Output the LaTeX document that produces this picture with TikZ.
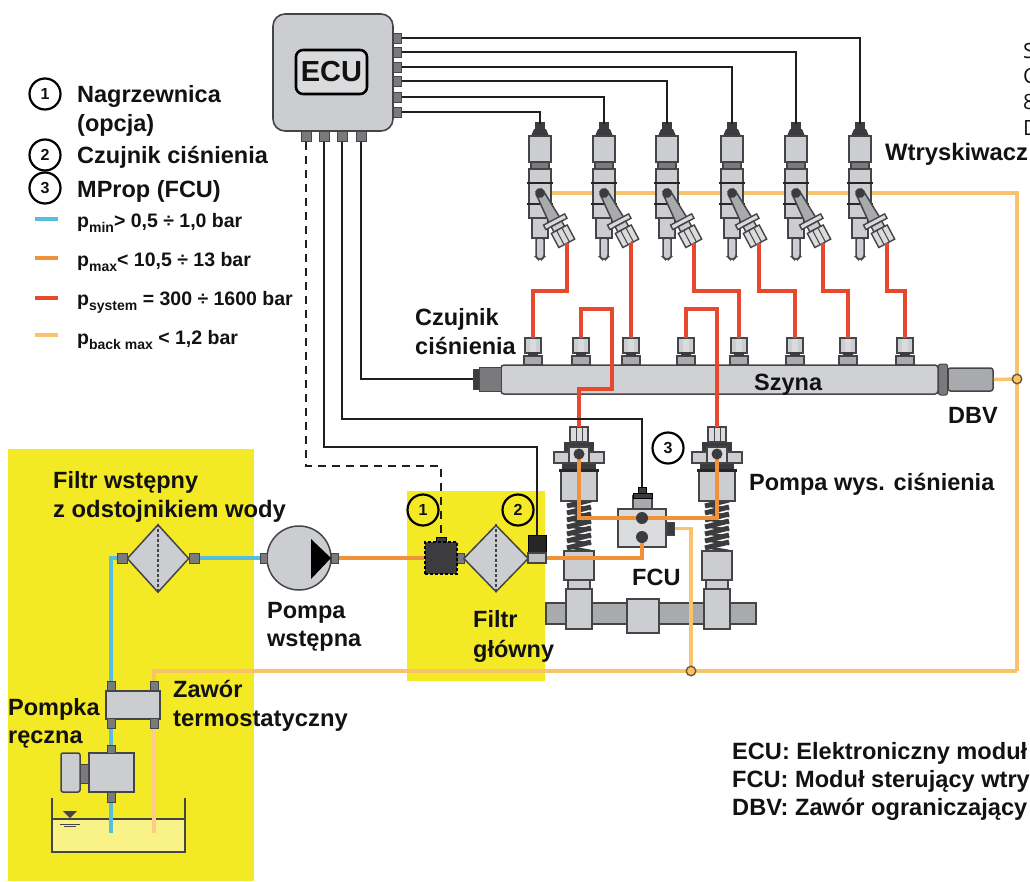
\documentclass[tikz,border=0pt]{standalone}
\usepackage{fontspec}
\setmainfont{Liberation Sans}
\newfontfamily\sidefont{Open Sans}
\usetikzlibrary{shapes.geometric}
\definecolor{bodyc}{HTML}{CBCDD0}
\definecolor{lightc}{HTML}{DADBDD}
\definecolor{midc}{HTML}{A9AAAD}
\definecolor{portc}{HTML}{7A7A7C}
\definecolor{edgec}{HTML}{454547}
\definecolor{darkc}{HTML}{3C3C3E}
\definecolor{hiyellow}{HTML}{F4E925}
\definecolor{bluep}{HTML}{58BEDF}
\definecolor{orangep}{HTML}{F0923A}
\definecolor{redp}{HTML}{E8482E}
\definecolor{backp}{HTML}{F8C36A}
\definecolor{backpale}{HTML}{FFCB8C}
\definecolor{txtc}{HTML}{121212}
\tikzset{
  part/.style={draw=edgec,line width=1.5pt,fill=bodyc},
  lightpart/.style={draw=edgec,line width=1.4pt,fill=lightc},
  portpart/.style={draw=edgec,line width=1pt,fill=portc},
  darkpart/.style={draw=black,line width=1pt,fill=darkc},
  wire/.style={draw=black!88,line width=2pt},
  dashwire/.style={wire,dash pattern=on 8pt off 6pt},
  pipeblue/.style={draw=bluep,line width=4pt},
  pipeorange/.style={draw=orangep,line width=4pt},
  pipered/.style={draw=redp,line width=4.5pt},
  pipeback/.style={draw=backp,line width=3.5pt},
  pipepale/.style={draw=backpale,line width=3.5pt},
  label/.style={anchor=base west,inner sep=0pt,text=txtc,font=\fontsize{23.5}{27}\selectfont\bfseries},
  widelabel/.style={anchor=base west,inner sep=0pt,text=txtc,font=\fontsize{23.8}{27}\selectfont\bfseries},
  notelabel/.style={anchor=base west,inner sep=0pt,text=txtc,font=\fontsize{23.6}{27}\selectfont\bfseries},
  legendtxt/.style={anchor=base west,inner sep=0pt,text=txtc,font=\fontsize{19.5}{22}\selectfont\bfseries},
  sidetxt/.style={anchor=base west,inner sep=0pt,text=txtc,font=\fontsize{21}{24}\selectfont\sidefont},
  numcirc/.style={circle,draw=black,line width=2.2pt,fill=white,minimum size=31pt,inner sep=0pt,font=\fontsize{16}{16}\selectfont\bfseries,text=txtc},
  tick/.style={line width=4pt},
  junction/.style={circle,draw=black!55!backp,line width=1.4pt,fill=backp,minimum size=9.5pt,inner sep=0pt},
}
\newcommand{\lowsub}[1]{\raisebox{-5pt}{\fontsize{14}{14}\selectfont #1}}
% injector: #1 index, #2 axis x
\newcommand{\injector}[2]{%
\begin{scope}[shift={(#2,0)}]
  \fill[darkc] (-5,122) rectangle (5,131);
  \fill[darkc] (-6,136) -- (-9,136) -- (-6,129) -- (6,129) -- (9,136) -- cycle;
  \path[part] (-8,218) -- (8,218) -- (8,238) -- (-8,238) -- cycle;
  \path[part,rounded corners=1.5pt] (-4,238) -- (4,238) -- (4,257) -- (2,259) -- (-2,259) -- (-4,257) -- cycle;
  \path[part] (-11,136) rectangle (11,162);
  \path[part,fill=portc] (-9,162) rectangle (9,169);
  \path[part] (-11,169) rectangle (11,218);
  \draw[black!85,line width=2.8pt] (-13,183) -- (13,183);
  \draw[black!85,line width=2.8pt] (-13,204) -- (13,204);
  \begin{scope}[shift={(0,193)},rotate=28]
    \path[part,fill=midc] (-4,0) -- (4,0) -- (6,31) -- (-6,31) -- cycle;
    \fill[darkc] (0,0) circle (5);
    \path[lightpart] (-12,30) rectangle (12,35);
    \path[part] (-6,35) rectangle (6,41);
    \path[lightpart] (-9,41) rectangle (9,57);
    \draw[edgec,line width=1pt] (-3,41) -- (-3,57) (3,41) -- (3,57);
    \coordinate (injend#1) at (0,57);
  \end{scope}
  \coordinate (injtop#1) at (0,124);
\end{scope}}
% rail port: #1 index, #2 axis x
\newcommand{\railport}[2]{%
\begin{scope}[shift={(#2,0)}]
  \path[part,fill=midc] (-9,356) rectangle (9,365);
  \path[part] (-8,338) rectangle (8,353);
  \fill[lightc] (-3,338.6) rectangle (3,352.4);
  \fill[darkc] (-5,352) rectangle (5,356);
  \coordinate (rail#1) at (0,338);
\end{scope}}
% high pressure pump: #1 name, #2 axis x
\newcommand{\hppump}[2]{%
\begin{scope}[shift={(#2,0)}]
  \path[part] (-13,589) rectangle (13,629);
  \path[part] (-11,580) rectangle (11,589);
  \foreach \yy in {503,510,...,549} {
    \draw[darkc,line width=5pt] (-12,\yy+3) -- (12,\yy-3);
    \draw[darkc,line width=2.6pt] (-12,\yy+2) -- (12,\yy+6);
  }
  \path[part] (-15,551) rectangle (15,580);
  \path[part] (-18,470) rectangle (18,501);
  \fill[darkc] (-17,462) rectangle (17,470);
  \draw[black!85,line width=3pt] (-20,470) -- (20,470);
  \fill[darkc] (-15,442) rectangle (15,455);
  \path[part] (-25,452) rectangle (25,463);
  \path[lightpart] (-10,447) rectangle (10,463);
  \path[lightpart] (-9,427) rectangle (9,442);
  \draw[edgec,line width=1pt] (-3,427) -- (-3,442) (3,427) -- (3,442);
  \coordinate (#1top) at (0,427);
  \coordinate (#1in) at (0,454);
\end{scope}}
\begin{document}
\begin{tikzpicture}[x=1pt,y=-1pt]
\useasboundingbox (0,0) rectangle (1030,881);
\clip (0,0) rectangle (1030,881);
% yellow zones
\fill[hiyellow] (8,449) rectangle (254,881);
\fill[hiyellow] (407,491) rectangle (545,681);
% tank water
\fill[hiyellow!55!white] (52,819) rectangle (185,852);
\draw[edgec,line width=1.2pt] (52,819) -- (185,819);
% ECU
\node[draw=edgec,line width=1.6pt,fill=bodyc,rounded corners=12pt,minimum width=120pt,minimum height=117pt,inner sep=0pt] (ecubox) at (333,72.5) {};
\node[draw=black,line width=2.6pt,fill=lightc,rounded corners=7pt,minimum width=71pt,minimum height=44pt,inner sep=0pt,font=\fontsize{29}{30}\selectfont\bfseries,text=txtc] (ecutag) at (331.5,72) {ECU};
\foreach \n/\yy in {a/38,b/52,c/67,d/81,e/97,f/112} {
  \node[portpart,minimum width=8pt,minimum height=10pt,inner sep=0pt] (ecu\n) at (397,\yy) {};
}
\foreach \n/\xx in {g/306,h/324,i/342,j/361} {
  \node[portpart,minimum width=10pt,minimum height=10pt,inner sep=0pt] (ecu\n) at (\xx,136) {};
}
% coordinates
\coordinate (ax1) at (540,193);
\coordinate (backturn) at (1017,193);
\coordinate (jdbvpt) at (1017,379);
\coordinate (jfcupt) at (691,671);
\coordinate (backlow) at (1017,671);
\coordinate (backleft) at (154,671);
\coordinate (tankback) at (154,833);
\coordinate (tankblue) at (111,833);
\coordinate (redrow) at (0,291);
\coordinate (hprow) at (0,309);
% low pressure return, behind everything
\draw[pipeback] (ax1) -- (backturn) -- (backlow);
% tank
\draw[edgec,line width=2.8pt] (52,798) -- (52,852) -- (185,852) -- (185,798);
\fill[edgec] (63,811) -- (77,811) -- (70,818) -- cycle;
\draw[edgec,line width=1pt] (60,824) -- (80,824) (64,826.5) -- (76,826.5);
% injectors
\foreach \i/\xx in {1/540,2/604,3/667,4/732,5/796,6/860} {\injector{\i}{\xx}}
% wires from ECU to injectors
\draw[wire] (ecua.east) -| (injtop6);
\draw[wire] (ecub.east) -| (injtop5);
\draw[wire] (ecuc.east) -| (injtop4);
\draw[wire] (ecud.east) -| (injtop3);
\draw[wire] (ecue.east) -| (injtop2);
\draw[wire] (ecuf.east) -| (injtop1);
% rail
\foreach \i/\xx in {1/533,2/581,3/631,4/686,5/739,6/795,7/848,8/905} {\railport{\i}{\xx}}
\node[part,fill=bodyc!92!white,rounded corners=3pt,minimum width=437pt,minimum height=29pt,inner sep=0pt] (railbody) at (719.5,379.5) {};
\node[portpart,fill=darkc,minimum width=6pt,minimum height=20pt,inner sep=0pt] (railsensor) at (476,379) {};
\node[portpart,minimum width=22pt,minimum height=24pt,inner sep=0pt] (railneck) at (490,379) {};
\node[portpart,minimum width=9pt,minimum height=31pt,inner sep=0pt,rounded corners=2pt] (railnut) at (943,379.5) {};
\node[part,fill=midc,rounded corners=2.5pt,minimum width=45pt,minimum height=23pt,inner sep=0pt] (dbv) at (970.5,379.5) {};
\draw[pipeback] (dbv.east) -- (jdbvpt);
\node[junction] (jdbv) at (jdbvpt) {};
% filters, pumps
\node[part,diamond,aspect=1,minimum width=62pt,minimum height=68pt,inner sep=0pt] (prefilter) at (158,558.5) {};
\draw[edgec,line width=1.2pt,densely dashed] (prefilter.north) -- (prefilter.south);
\node[portpart,minimum width=10pt,minimum height=10pt,inner sep=0pt] (prefl) at (122,558) {};
\node[portpart,minimum width=10pt,minimum height=10pt,inner sep=0pt] (prefr) at (194,558) {};
\node[part,circle,minimum size=64pt,inner sep=0pt] (lppump) at (299,558) {};
\fill[black] (311,539) -- (311,579) -- (331,558) -- cycle;
\node[portpart,minimum width=7pt,minimum height=10pt,inner sep=0pt] (lpl) at (263.5,558) {};
\node[portpart,minimum width=7pt,minimum height=10pt,inner sep=0pt] (lpr) at (334.5,558) {};
% heater 1
\node[portpart,minimum width=7pt,minimum height=10pt,inner sep=0pt] (heatr) at (460.5,558) {};
\node[darkpart,minimum width=10pt,minimum height=6pt,inner sep=0pt] (heattop) at (441,540) {};
\node[draw=black,line width=1.4pt,densely dashed,fill=darkc,minimum width=32pt,minimum height=32pt,inner sep=0pt] (heater) at (441,558) {};
% main filter
\node[part,diamond,aspect=1,minimum width=65pt,minimum height=67pt,inner sep=0pt] (mainfilter) at (496,558.5) {};
\draw[edgec,line width=1.2pt,densely dashed] (mainfilter.north) -- (mainfilter.south);
\node[draw=black,line width=1pt,fill=black!85,minimum width=18pt,minimum height=18pt,inner sep=0pt] (sensortwo) at (537,544) {};
\node[part,fill=midc!75!white,minimum width=18pt,minimum height=10pt,inner sep=0pt] (sensorbase) at (537,558) {};
% hand pump, thermostat
\node[part,minimum width=54pt,minimum height=28pt,inner sep=0pt] (thermo) at (133,705) {};
\foreach \n/\xx/\yy in {va/111/686,vb/154/686,vc/111/723.5,vd/154/723.5} {
  \node[portpart,minimum width=8pt,minimum height=9.5pt,inner sep=0pt] (\n) at (\xx,\yy) {};
}
\node[part,rounded corners=2pt,minimum width=19pt,minimum height=39pt,inner sep=0pt] (hphandle) at (70.5,772.5) {};
\node[portpart,minimum width=9pt,minimum height=19pt,inner sep=0pt] (hpneck) at (84.5,773.5) {};
\node[part,minimum width=45pt,minimum height=39pt,inner sep=0pt] (hpbody) at (111.5,772.5) {};
\node[portpart,minimum width=8pt,minimum height=8pt,inner sep=0pt] (hptop) at (111,749) {};
\node[portpart,minimum width=8pt,minimum height=10pt,inner sep=0pt] (hpbot) at (111,797) {};
% low pressure feed
\draw[pipeblue] (tankblue) -- (hpbot.south);
\draw[pipeblue] (hptop.north) -- (vc.south);
\draw[pipeblue] (va.north) |- (prefl.west);
\draw[pipeblue] (prefr.east) -- (lpl.west);
\draw[pipeorange] (lpr.east) -- (heater.west);
% shaft
\node[part,fill=midc,minimum width=210pt,minimum height=21pt,inner sep=0pt] (shaft) at (651,613.5) {};
\node[part,minimum width=32pt,minimum height=34pt,inner sep=0pt] (shaftblock) at (643,616) {};
\hppump{pl}{579}
\hppump{pr}{717}
% FCU
\node[part,minimum width=48pt,minimum height=38pt,inner sep=0pt,fill=lightc] (fcubox) at (642,528) {};
\node[portpart,fill=darkc,minimum width=8pt,minimum height=13pt,inner sep=0pt] (fcuout) at (670,528.5) {};
\node[part,minimum width=19pt,minimum height=13pt,inner sep=0pt,fill=midc] (fcuconn) at (642.5,502) {};
\node[darkpart,minimum width=19pt,minimum height=5pt,inner sep=0pt] (fcucap) at (642.5,495.5) {};
\node[darkpart,minimum width=8pt,minimum height=6pt,inner sep=0pt] (fcupin) at (642,490) {};
% return lines over the pump frame
\draw[pipeback] (backlow) -- (backleft) -- (vb.north);
\draw[pipepale] (vd.south) -- (tankback);
\draw[pipeback] (fcuout.east) -| (jfcupt);
\node[junction] (jfcu) at (jfcupt) {};
% high pressure orange
\coordinate (fcuhigh) at (642,518);
\coordinate (fculow) at (642,537);
\draw[pipeorange] (plin) |- (fcuhigh) -| (prin);
\draw[pipeorange] (sensorbase.east) -| (fculow);
\fill[darkc] (fcuhigh) circle (6);
\fill[darkc] (fculow) circle (6);
\fill[darkc] (plin) circle (5.5);
\fill[darkc] (prin) circle (5.5);
% red lines
\draw[pipered] (injend1) |- (rail1 |- redrow) -- (rail1);
\draw[pipered] (injend2) -| (rail3);
\draw[pipered] (injend3) |- (rail5 |- redrow) -- (rail5);
\draw[pipered] (injend4) |- (rail6 |- redrow) -- (rail6);
\draw[pipered] (injend5) |- (rail7 |- redrow) -- (rail7);
\draw[pipered] (injend6) |- (rail8 |- redrow) -- (rail8);
\draw[pipered] (rail2) |- (612,309) |- (pltop |- 0,389) -- (pltop);
\draw[pipered] (rail4) |- (prtop |- hprow) -- (prtop);
% control wires
\draw[wire] (ecuj.south) |- (railsensor.west);
\draw[wire] (ecui.south) |- (fcupin.north |- 0,419) -- (fcupin.north);
\draw[wire] (ecuh.south) |- (sensortwo.north |- 0,447) -- (sensortwo.north);
\draw[dashwire] (ecug.south) |- (heattop.north |- 0,466) -- (heattop.north);
% numbered marks
\node[numcirc] (numa) at (45,94) {1};
\node[numcirc] (numb) at (45,155) {2};
\node[numcirc] (numc) at (45,188) {3};
\node[numcirc,fill=none] (numd) at (423,510) {1};
\node[numcirc,fill=none] (nume) at (518,510) {2};
\node[numcirc] (numf) at (668,448) {3};
% labels
\node[label] (t1) at (77,102) {Nagrzewnica};
\node[label] (t2) at (77,131) {(opcja)};
\node[label] (t3) at (77,163) {Czujnik ciśnienia};
\node[label] (t4) at (77,197) {MProp (FCU)};
\draw[bluep,tick] (35,219) -- (58,219);
\draw[orangep,tick] (35,258) -- (58,258);
\draw[redp,tick] (35,298) -- (58,298);
\draw[backp,tick] (35,335) -- (58,335);
\node[legendtxt] (l1) at (77,227) {p\lowsub{min}> 0,5 ÷ 1,0 bar};
\node[legendtxt] (l2) at (77,266) {p\lowsub{max}< 10,5 ÷ 13 bar};
\node[legendtxt] (l3) at (77,305) {p\lowsub{system} = 300 ÷ 1600 bar};
\node[legendtxt] (l4) at (77,344) {p\lowsub{back max} < 1,2 bar};
\node[widelabel] (t5) at (885,160) {Wtryskiwacz};
\node[label] (t6) at (415,325) {Czujnik};
\node[label] (t7) at (415,354) {ciśnienia};
\node[label] (t8) at (754,390) {Szyna};
\node[label] (t9) at (948,423) {DBV};
\node[label] (t10) at (749,490) {Pompa wys. ciśnienia};
\node[label] (t11) at (632,585) {FCU};
\node[label] (t12) at (473,627) {Filtr};
\node[label] (t13) at (473,657) {główny};
\node[label] (t14) at (53,488) {Filtr wstępny};
\node[widelabel] (t15) at (53,517) {z odstojnikiem wody};
\node[label] (t16) at (267,618) {Pompa};
\node[label] (t17) at (267,646) {wstępna};
\node[label] (t18) at (8,715) {Pompka};
\node[label] (t19) at (8,743) {ręczna};
\node[label] (t20) at (173,697) {Zawór};
\node[widelabel] (t21) at (173,726) {termostatyczny};
\node[notelabel] (t22) at (732,759) {ECU: Elektroniczny moduł};
\node[notelabel] (t23) at (732,787) {FCU: Moduł sterujący wtry};
\node[notelabel] (t24) at (732,815) {DBV: Zawór ograniczający};
\node[sidetxt] (s1) at (1023,58) {S};
\node[sidetxt] (s2) at (1023,83) {C};
\node[sidetxt] (s3) at (1023,109) {8};
\node[sidetxt] (s4) at (1023,135) {D};
\end{tikzpicture}
\end{document}
